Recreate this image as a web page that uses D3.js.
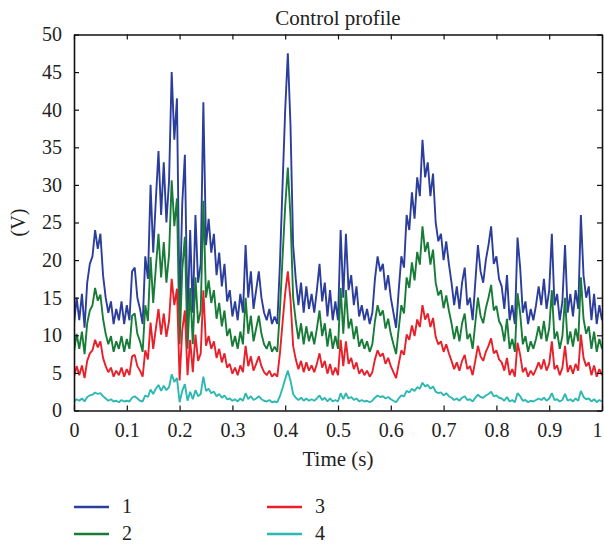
<!DOCTYPE html>
<html lang="en">
<head>
    <meta charset="UTF-8">
    <title>Control profile</title>
    <script src="https://d3js.org/d3.v7.min.js"></script>
    <style>
        body { margin: 0; background: #fff; }
        text { font-family: "Liberation Serif", "DejaVu Serif", serif; fill: #222; }
    </style>
</head>
<body>
    <div id="chart"></div>
    <script>
        // sampling step of the recorded signals (s)
        const sampleStep = 0.005;

        const seriesNames = ["1", "2", "3", "4"];
        const seriesColors = ["#2c3e9c", "#187c38", "#e8202a", "#2db8b2"];

        const xTicks = [0, 0.1, 0.2, 0.3, 0.4, 0.5, 0.6, 0.7, 0.8, 0.9, 1];
        const xTickLabels = ["0", "0.1", "0.2", "0.3", "0.4", "0.5", "0.6", "0.7", "0.8", "0.9", "1"];
        const yTicks = [0, 5, 10, 15, 20, 25, 30, 35, 40, 45, 50];

        const v1 = [
            11.5,15,12,15.5,11,17,19.5,20.5,24,21.5,
            23.5,18,15,13,14.5,11.5,13.5,12,14.5,11.5,
            14,12,18.5,19,15,13.5,11.5,20.5,17.5,30,
            21,28,34.5,26,33,25,30.5,45,36,41.5,
            13,27.5,34,12,24,13,26,17,19.5,41,
            22,25.5,21,23.5,18,21,16.5,19.5,14.5,16,
            12.5,14.5,12,15.5,13,22,15,18.5,13.5,16,
            18.5,15,13,12,13.5,11.5,12.5,11.5,19.5,30,
            40,47.5,38,22,17.5,14,17,13,16.5,13.5,
            15.5,13,16,19.5,14.5,17,12.5,16,12,14.5,
            12,24,15,23.5,16,18,14,16.5,12.5,14,
            12,13.5,11.5,13,17.5,20.5,18.5,19.5,16,18,
            15,13,11,16,20.5,19,26,24,29,25.5,
            31,28.5,36,31,33,28.5,31.5,25,22.5,23.5,
            20,22.5,19.5,17,14,16.5,13.5,17,19,14,
            15,12,17,22,18.5,17,20,22,24.5,19.5,
            20.5,17.5,16.5,13.5,18,12,14,11.5,23,19,
            13,14.5,11.5,13.5,12,14,16.5,14,17.5,13.5,
            16,23.5,14,15.5,12,14.5,22,13,15.5,12.5,
            16,13.5,26,18,15,16.5,12,15.5,11.5,14,
            12
        ];
        const v2 = [
            7.8,10.2,8.2,10.5,7.5,11.6,13.3,14,16.3,14.6,
            15.4,12.2,10.2,8.8,9.9,7.8,9.2,8.2,9.9,7.8,
            9.5,8.2,12.6,12.9,10.2,9.2,7.8,14,11.9,20.4,
            14.3,19,23.5,17.7,22.4,17,20.7,30.6,24.5,28.2,
            8.8,18.7,23.1,8.2,16.3,8.8,17.7,11.6,13.3,27.9,
            15,17.3,14.3,16,12.2,14.3,11.2,13.3,9.9,10.9,
            8.5,9.9,8.2,10.5,8.8,15,10.2,12.6,9.2,10.9,
            12.6,10.2,8.8,8.2,9.2,7.8,8.5,7.8,13.3,20.4,
            27.2,32.3,25.8,15,11.9,9.5,11.6,8.8,11.2,9.2,
            10.5,8.8,10.9,13.3,9.9,11.6,8.5,10.9,8.2,9.9,
            8.2,16.3,10.2,16,10.9,12.2,9.5,11.2,8.5,9.5,
            8.2,9.2,7.8,8.8,11.9,14,12.6,13.3,10.9,12.2,
            10.2,8.8,7.5,10.9,14,12.9,17.7,16.3,19.7,17.3,
            21.1,19.4,24.5,21.1,22.4,19.4,21.4,17,15.3,16,
            13.6,15.3,13.3,11.6,9.5,11.2,9.2,11.6,12.9,9.5,
            10.2,8.2,11.6,15,12.6,11.6,13.6,15,16.7,13.3,
            13.9,11.9,11.2,9.2,12.2,8.2,9.5,7.8,15.6,12.9,
            8.8,9.9,7.8,9.2,8.2,9.5,11.2,9.5,11.9,9.2,
            10.9,16,9.5,10.5,8.2,9.9,15,8.8,10.5,8.5,
            10.9,9.2,17.7,12.2,10.2,11.2,8.2,10.5,7.8,9.5,
            8.2
        ];
        const v3 = [
            4.5,5.9,4.7,6,4.3,6.6,7.6,8,9.4,8.4,
            9.2,7,5.9,5.1,5.7,4.5,5.3,4.7,5.7,4.5,
            5.5,4.7,7.2,7.4,5.9,5.3,4.5,8,6.8,11.7,
            8.2,10.9,13.5,10.1,12.9,9.8,11.9,17.5,14,16.2,
            4,10.7,13.3,4.7,9.4,5.1,10.1,6.6,7.6,16,
            8.6,9.9,8.2,9.2,7,8.2,6.4,7.6,5.7,6.2,
            4.9,5.7,4.7,6,5.1,8.6,5.9,7.2,5.3,6.2,
            7.2,5.9,5.1,4.7,5.3,4.5,4.9,4.5,7.6,11.7,
            15.6,18.5,14.8,8.6,6.8,5.5,6.6,5.1,6.4,5.3,
            6,5.1,6.2,7.6,5.7,6.6,4.9,6.2,4.7,5.7,
            4.7,9.4,5.9,9.2,6.2,7,5.5,6.4,4.9,5.5,
            4.7,5.3,4.5,5.1,6.8,8,7.2,7.6,6.2,7,
            5.9,5.1,4.3,6.2,8,7.4,10.1,9.4,11.3,9.9,
            12.1,11.1,14,12.1,12.9,11.1,12.3,9.8,8.8,9.2,
            7.8,8.8,7.6,6.6,5.5,6.4,5.3,6.6,7.4,5.5,
            5.9,4.7,6.6,8.6,7.2,6.6,7.8,8.6,9.6,7.6,
            8,6.8,6.4,5.3,7,4.7,5.5,4.5,9,7.4,
            5.1,5.7,4.5,5.3,4.7,5.5,6.4,5.5,6.8,5.3,
            6.2,9.2,5.5,6,4.7,5.7,8.6,5.1,6,4.9,
            6.2,5.3,10.1,7,5.9,6.4,4.7,6,4.5,5.5,
            4.7
        ];
        const v4 = [
            1.2,1.5,1.3,1.6,1.2,1.8,2.0,2.1,2.4,2.2,
            2.3,1.9,1.6,1.3,1.5,1.2,1.3,1.1,1.4,1.2,
            1.3,1.2,1.7,1.9,1.6,1.3,1.2,2.0,1.8,2.8,
            2.2,2.9,3.4,2.6,3.3,2.7,3.1,4.8,3.8,4.3,
            1.1,2.6,3.5,1.3,2.5,1.5,2.7,1.9,2.2,4.5,
            2.6,2.9,2.3,2.5,1.9,2.2,1.7,2.0,1.5,1.6,
            1.3,1.5,1.2,1.6,1.3,2.3,1.5,1.9,1.4,1.6,
            1.9,1.5,1.3,1.2,1.4,1.1,1.2,1.1,1.9,3.0,
            4.2,5.3,4.0,2.2,1.7,1.4,1.7,1.3,1.6,1.3,
            1.5,1.3,1.6,2.0,1.4,1.7,1.2,1.6,1.2,1.4,
            1.2,2.3,1.5,2.3,1.6,1.8,1.4,1.6,1.2,1.4,
            1.2,1.3,1.1,1.3,1.7,2.0,1.8,1.9,1.6,1.8,
            1.5,1.3,1.1,1.6,2.0,1.9,2.6,2.4,2.9,2.6,
            3.1,2.9,3.7,3.2,3.4,2.9,3.2,2.5,2.3,2.4,
            2.0,2.3,1.9,1.7,1.4,1.6,1.3,1.7,1.9,1.4,
            1.5,1.2,1.7,2.1,1.8,1.7,2.0,2.2,2.5,1.9,
            2.0,1.7,1.6,1.3,1.8,1.2,1.4,1.1,2.3,1.9,
            1.3,1.4,1.1,1.3,1.2,1.4,1.6,1.4,1.7,1.3,
            1.6,2.3,1.4,1.5,1.2,1.4,2.2,1.3,1.5,1.2,
            1.6,1.3,2.6,1.8,1.5,1.6,1.2,1.5,1.1,1.4,
            1.2
        ];
        const seriesValues = [v1, v2, v3, v4];

        const W = 604, H = 545;
        const margin = { top: 34.5, right: 2, bottom: 134.5, left: 74 };
        const width = W - margin.left - margin.right;
        const height = H - margin.top - margin.bottom;

        const svg = d3.select("#chart")
            .append("svg")
            .attr("width", W)
            .attr("height", H);

        const g = svg.append("g")
            .attr("transform", `translate(${margin.left},${margin.top})`);

        const x = d3.scaleLinear().domain([0, 1]).range([0, width]);
        const y = d3.scaleLinear().domain([0, 50]).range([height, 0]);

        g.append("clipPath").attr("id", "plotclip")
            .append("rect").attr("width", width).attr("height", height);

        const line = d3.line()
            .x((d, i) => x(i * sampleStep))
            .y(d => y(d));

        const plot = g.append("g").attr("clip-path", "url(#plotclip)");
        seriesValues.forEach((vals, k) => {
            plot.append("path")
                .datum(vals)
                .attr("fill", "none")
                .attr("stroke", seriesColors[k])
                .attr("stroke-width", 1.9)
                .attr("stroke-linejoin", "bevel")
                .attr("d", line);
        });

        // frame with inward ticks on every side
        const tickFont = 20;
        const xAxis = d3.axisBottom(x).tickValues(xTicks)
            .tickFormat((d, i) => xTickLabels[i])
            .tickSizeInner(-5).tickSizeOuter(0).tickPadding(12);
        const yAxis = d3.axisLeft(y).tickValues(yTicks)
            .tickSizeInner(-5).tickSizeOuter(0).tickPadding(12);

        const gx = g.append("g").attr("transform", `translate(0,${height})`).call(xAxis);
        const gy = g.append("g").call(yAxis);
        g.append("g").call(d3.axisTop(x).tickValues(xTicks).tickFormat("")
            .tickSizeInner(-5).tickSizeOuter(0));
        g.append("g").attr("transform", `translate(${width},0)`)
            .call(d3.axisRight(y).tickValues(yTicks).tickFormat("")
                .tickSizeInner(-5).tickSizeOuter(0));

        g.selectAll(".domain").attr("stroke", "#111").attr("stroke-width", 1.6);
        g.selectAll(".tick line").attr("stroke", "#111").attr("stroke-width", 1.2);
        g.selectAll(".tick text")
            .attr("font-family", "Liberation Serif")
            .attr("font-size", tickFont)
            .attr("fill", "#222");
        // last x label sits flush with the right edge of the picture
        gx.selectAll(".tick text").filter((d, i) => i === xTicks.length - 1)
            .attr("text-anchor", "end").attr("dx", 0);

        // titles
        svg.append("text")
            .attr("x", margin.left + width / 2).attr("y", 25)
            .attr("text-anchor", "middle")
            .attr("font-size", 21)
            .text("Control profile");

        svg.append("text")
            .attr("x", margin.left + width / 2).attr("y", 466)
            .attr("text-anchor", "middle")
            .attr("font-size", 21)
            .text("Time (s)");

        svg.append("text")
            .attr("transform", `translate(25,${margin.top + height / 2}) rotate(-90)`)
            .attr("text-anchor", "middle")
            .attr("font-size", 20)
            .text("(V)");

        // legend, two columns
        const legendPos = [[74, 507], [74, 534], [267, 507], [267, 534]];
        seriesNames.forEach((name, k) => {
            const [lx, ly] = legendPos[k];
            svg.append("line")
                .attr("x1", lx).attr("x2", lx + 35)
                .attr("y1", ly).attr("y2", ly)
                .attr("stroke", seriesColors[k])
                .attr("stroke-width", 2.5);
            svg.append("text")
                .attr("x", lx + 48).attr("y", ly + 6)
                .attr("font-size", 20)
                .text(name);
        });
    </script>
</body>
</html>
